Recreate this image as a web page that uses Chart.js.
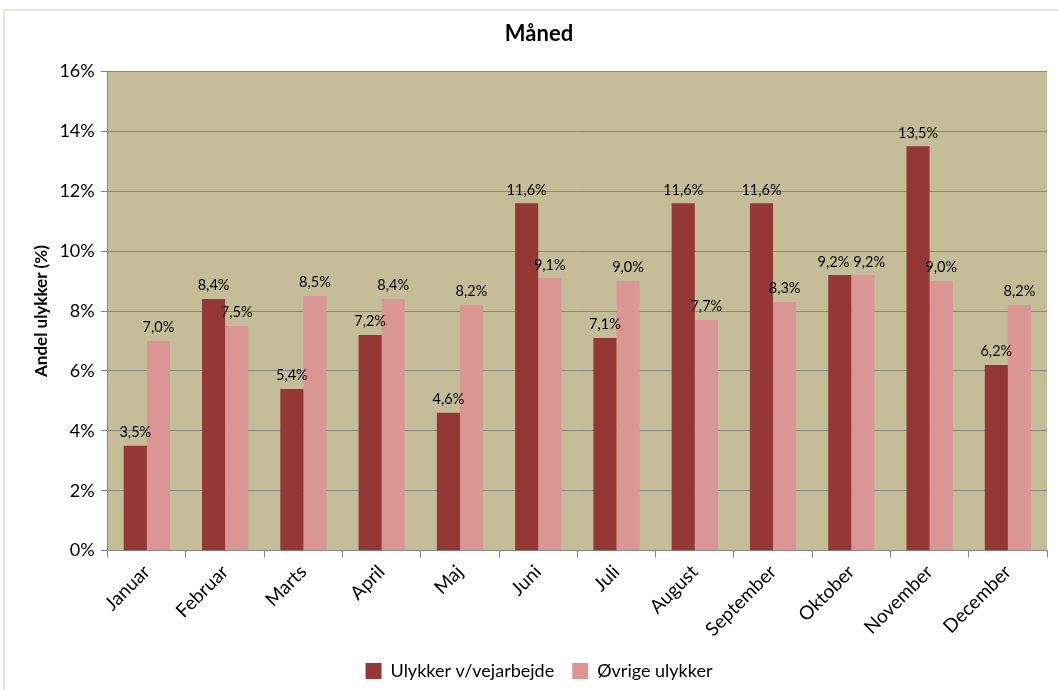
<!DOCTYPE html>
<html>
<head>
<meta charset="utf-8">
<script src="https://cdn.jsdelivr.net/npm/chart.js@4"></script>
<style>
    html, body { margin: 0; padding: 0; background: #fff; }
    #frame {
        position: absolute; left: 3px; top: 9px; width: 1060px; height: 690px;
        border: 2px solid #e6e4dc; box-sizing: border-box; background: #fff;
    }
    #wrap { position: absolute; left: 0; top: 0; width: 1058px; height: 690px; }
</style>
</head>
<body>
<div id="frame"></div>
<div id="wrap"><canvas id="chart"></canvas></div>
<script>
// Måned - andel ulykker

const months = ['Januar', 'Februar', 'Marts', 'April', 'Maj', 'Juni', 'Juli',
    'August', 'September', 'Oktober', 'November', 'December'];
const roadworkShare = [3.5, 8.4, 5.4, 7.2, 4.6, 11.6, 7.1, 11.6, 11.6, 9.2, 13.5, 6.2];
const otherShare = [7.0, 7.5, 8.5, 8.4, 8.2, 9.1, 9.0, 7.7, 8.3, 9.2, 9.0, 8.2];
const yTicks = [0, 2, 4, 6, 8, 10, 12, 14, 16];

const fontFamily = 'Lato, "Open Sans", sans-serif';

function pct(v, digits) {
    return v.toFixed(digits).replace('.', ',') + '%';
}

// draws the value above each bar, pushing apart labels that would collide
const barLabels = {
    id: 'barLabels',
    afterDatasetsDraw(chart) {
        const ctx = chart.ctx;
        ctx.save();
        ctx.font = '14.5px ' + fontFamily;
        ctx.fillStyle = '#000';
        ctx.textAlign = 'center';
        ctx.textBaseline = 'bottom';
        const m0 = chart.getDatasetMeta(0).data;
        const m1 = chart.getDatasetMeta(1).data;
        months.forEach((m, j) => {
            const t0 = pct(roadworkShare[j], 1);
            const t1 = pct(otherShare[j], 1);
            let x0 = m0[j].x, x1 = m1[j].x;
            const y0 = m0[j].y - 6, y1 = m1[j].y - 6;
            const w0 = ctx.measureText(t0).width, w1 = ctx.measureText(t1).width;
            if (Math.abs(y0 - y1) < 16) {
                const overlap = (x0 + w0 / 2 + 4) - (x1 - w1 / 2);
                if (overlap > 0) {
                    x0 -= overlap / 2;
                    x1 += overlap / 2;
                }
            }
            ctx.fillText(t0, x0, y0);
            ctx.fillText(t1, x1, y1);
        });
        ctx.restore();
    }
};

// khaki plot background
const plotBg = {
    id: 'plotBg',
    beforeDraw(chart) {
        const a = chart.chartArea;
        chart.ctx.save();
        chart.ctx.fillStyle = '#c4bd97';
        chart.ctx.fillRect(a.left, a.top, a.right - a.left, a.bottom - a.top);
        chart.ctx.restore();
    }
};

new Chart(document.getElementById('chart'), {
    type: 'bar',
    data: {
        labels: months,
        datasets: [
            {
                label: 'Ulykker v/vejarbejde',
                data: roadworkShare,
                backgroundColor: '#953735'
            },
            {
                label: 'Øvrige ulykker',
                data: otherShare,
                backgroundColor: '#d99694'
            }
        ]
    },
    options: {
        responsive: true,
        maintainAspectRatio: false,
        animation: false,
        layout: { padding: { left: 31, right: 11, top: 12, bottom: 0 } },
        datasets: {
            bar: { categoryPercentage: 0.59, barPercentage: 1.0 }
        },
        scales: {
            x: {
                offset: true,
                grid: {
                    offset: true,
                    drawOnChartArea: false,
                    drawTicks: true,
                    tickLength: 7,
                    color: '#868686'
                },
                border: { color: '#868686', width: 1 },
                ticks: {
                    color: '#000',
                    font: { family: fontFamily, size: 19 },
                    maxRotation: 45,
                    minRotation: 45,
                    padding: 3
                }
            },
            y: {
                min: 0,
                max: 16,
                afterBuildTicks: axis => {
                    axis.ticks = yTicks.map(v => ({ value: v }));
                },
                grid: {
                    color: '#868686',
                    tickLength: 7
                },
                border: { color: '#868686', width: 1 },
                ticks: {
                    color: '#000',
                    font: { family: fontFamily, size: 18 },
                    padding: 6,
                    callback: v => v + '%'
                },
                title: {
                    display: true,
                    text: 'Andel ulykker (%)',
                    color: '#000',
                    font: { family: fontFamily, size: 17, weight: 'bold' },
                    padding: { top: 0, bottom: 2 }
                }
            }
        },
        plugins: {
            title: {
                display: true,
                text: 'Måned',
                color: '#000',
                font: { family: fontFamily, size: 22, weight: 'bold' },
                padding: { top: 9, bottom: 24 }
            },
            legend: {
                position: 'bottom',
                labels: {
                    color: '#000',
                    font: { family: fontFamily, size: 18 },
                    boxWidth: 16,
                    boxHeight: 16,
                    padding: 18
                }
            },
            tooltip: { enabled: false }
        }
    },
    plugins: [plotBg, barLabels]
});
</script>
</body>
</html>
